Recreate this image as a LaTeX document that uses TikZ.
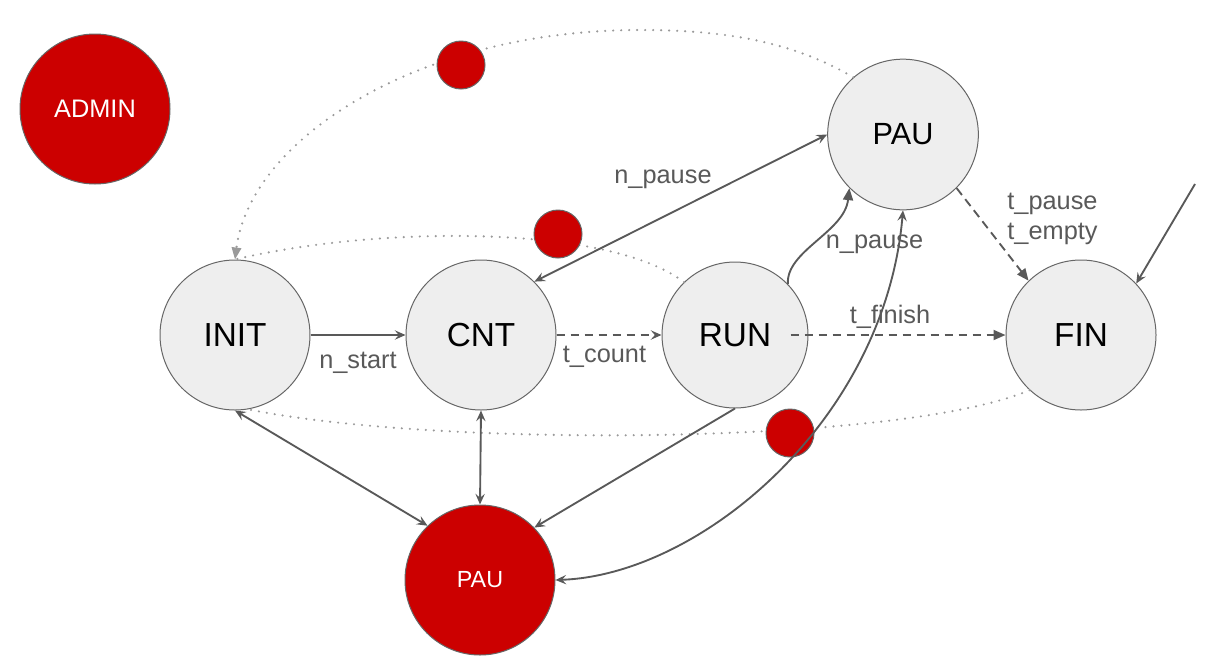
\documentclass[tikz,border=0pt]{standalone}
\usepackage{fontspec}
\setmainfont{Liberation Sans}
\usetikzlibrary{arrows.meta,calc}
\definecolor{nodegray}{HTML}{EEEEEE}
\definecolor{edgegray}{HTML}{595959}
\definecolor{dotgray}{HTML}{9A9A9A}
\definecolor{redfill}{HTML}{CC0000}
\definecolor{rimgray}{HTML}{666666}
\begin{document}
\begin{tikzpicture}[x=0.75pt,y=-0.75pt,
  state/.style={circle, draw=rimgray, line width=0.75pt, fill=nodegray, minimum size=112.5pt, inner sep=0pt, font=\fontsize{25}{30}\selectfont},
  redstate/.style={circle, draw=rimgray, line width=0.75pt, fill=redfill, minimum size=112.5pt, inner sep=0pt, text=white},
  reddot/.style={circle, draw=rimgray, line width=0.75pt, fill=redfill, minimum size=36pt, inner sep=0pt},
  conn/.style={draw=edgegray, line width=1.4pt},
  dashc/.style={dash pattern=on 6.5pt off 4pt},
  dotc/.style={draw=dotgray, line width=1.8pt, line cap=round, dash pattern=on 0pt off 6pt},
  barb/.tip={Stealth[length=8pt,width=7pt,inset=3pt]},
  tri/.tip={Triangle[length=9pt,width=7.5pt]},
  lbl/.style={text=edgegray, font=\fontsize{19}{23}\selectfont, inner sep=0pt, anchor=base},
]
\useasboundingbox (0,0) rectangle (1210,668);

% nodes
\node[redstate, font=\fontsize{19}{23}\selectfont] (admin) at (95,109) {ADMIN};
\node[state, minimum size=113pt, font=\fontsize{23}{28}\selectfont] (paut) at (903,134.5) {PAU};
\node[state] (init) at (235,335) {INIT};
\node[state] (cnt) at (481,335) {CNT};
\node[state, minimum size=109.5pt] (run) at (735,335) {RUN};
\node[state] (fin) at (1081,335) {FIN};
\node[redstate, font=\fontsize{17.5}{21}\selectfont] (paub) at (480,580) {PAU};
\coordinate (ext) at (1195,184);

% dotted arcs
\draw[dotc, -{Triangle[length=9pt,width=7pt,fill=dotgray]}] (paut.131) .. controls (790,40) and (720,30) .. (640,30) .. controls (417,30) and (250,140) .. (init.north);
\draw[dotc] (run.134) .. controls (610,225) and (380,225) .. (init.north);
\draw[dotc] (fin.227) .. controls (900,445) and (440,448) .. (init.-80);

% red dots
\node[reddot] (d1) at (461,65) {};
\node[reddot] (d2) at (558,234) {};
\node[reddot] (d3) at (790,433) {};

% connectors
\draw[conn, -barb] (init.east) -- (cnt.west);
\draw[conn, dashc, -barb] (cnt.east) -- (run.west);
\draw[conn, dashc, -tri] ([xshift=-13.5pt]run.east) -- (fin.west);
\draw[conn, barb-barb] (cnt.45) -- (paut.180);
\draw[conn, -tri] (run.44) .. controls +(-2,-33) and +(-5,44) .. (paut.225);
\draw[conn, dashc, -tri] (paut.-45) -- (fin.134);
\draw[conn, -barb] (ext) -- (fin.43);
\draw[conn, barb-barb] (init.south) -- (paub.134);
\draw[conn, barb-barb] (cnt.south) -- (paub.north);
\draw[conn, -barb] (run.south) -- (paub.44);
\draw[conn, barb-barb] (paub.east) .. controls +(145,-5) and +(-18,210) .. (paut.south);

% labels
\node[lbl] (l1) at (358,368) {n\_start};
\node[lbl] (l2) at (604.5,362.5) {t\_count};
\node[lbl] (l3) at (890,323) {t\_finish};
\node[lbl] (l4) at (663,183) {n\_pause};
\node[lbl] (l5) at (874.5,248) {n\_pause};
\node[lbl] (l6) at (1052.5,209) {t\_pause};
\node[lbl] (l7) at (1052.5,239) {t\_empty};
\end{tikzpicture}
\end{document}
